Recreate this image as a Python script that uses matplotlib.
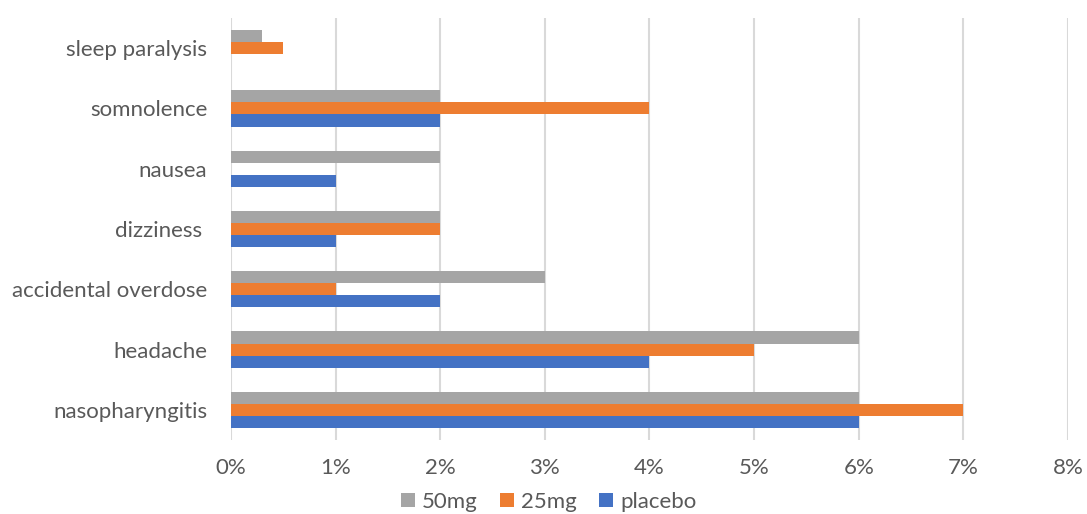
import matplotlib
matplotlib.use("Agg")
import matplotlib.pyplot as plt
import numpy as np
from matplotlib.ticker import FuncFormatter

categories = ['nasopharyngitis', 'headache', 'accidental overdose', 'dizziness ',
              'nausea', 'somnolence', 'sleep paralysis']
placebo = [6, 4, 2, 1, 1, 2, 0]
mg25 = [7, 5, 1, 2, 0, 4, 0.5]
mg50 = [6, 6, 3, 2, 2, 2, 0.3]

plt.rcParams['font.family'] = ['Lato', 'DejaVu Sans']

fig = plt.figure(figsize=(10.87, 5.14), dpi=100)
ax = fig.add_axes([0.2125, 0.144, 0.77, 0.821])

y = np.arange(len(categories))
h = 0.2
ax.barh(y - h, placebo, height=h, color='#4472C4', label='placebo', zorder=3)
ax.barh(y, mg25, height=h, color='#ED7D31', label='25mg', zorder=3)
ax.barh(y + h, mg50, height=h, color='#A5A5A5', label='50mg', zorder=3)

ax.set_xlim(0, 8)
ax.set_ylim(-0.5, len(categories) - 0.5)
ax.set_xticks(range(9))
ax.xaxis.set_major_formatter(FuncFormatter(lambda v, p: f'{int(v)}%'))
ax.set_yticks(y)
ax.set_yticklabels(categories)

ax.grid(axis='x', color='#D9D9D9', linewidth=1.5, zorder=0)
for s in ax.spines.values():
    s.set_visible(False)
ax.tick_params(axis='both', length=0, labelsize=16, labelcolor='#595959')
ax.tick_params(axis='y', pad=17)
ax.tick_params(axis='x', pad=13)

handles, labels = ax.get_legend_handles_labels()
fig.legend(handles[::-1], labels[::-1], loc='lower center', bbox_to_anchor=(0.505, -0.035),
           ncol=3, frameon=False, fontsize=16, labelcolor='#595959',
           handlelength=0.6, handleheight=0.6, handletextpad=0.35, columnspacing=1.0)

fig.savefig('out.png', dpi=100)
